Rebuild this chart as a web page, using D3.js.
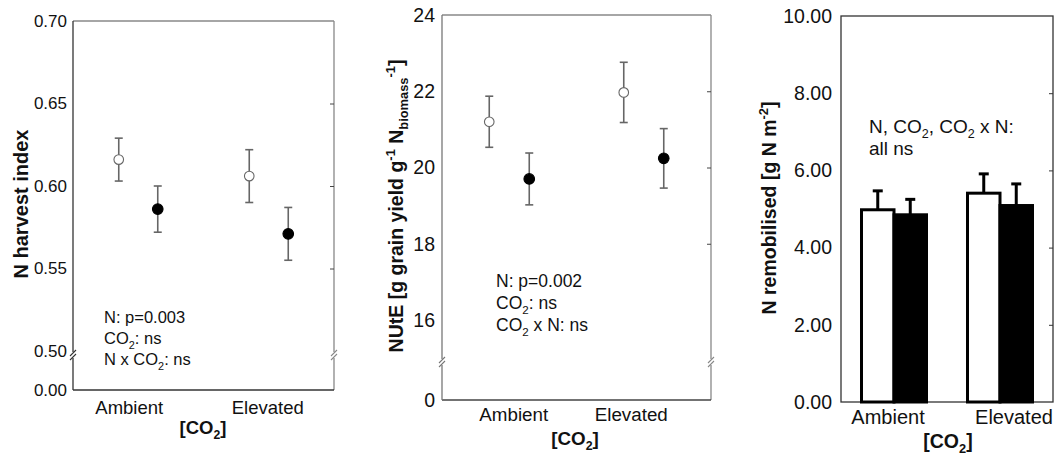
<!DOCTYPE html>
<html>
<head>
<meta charset="utf-8" />
<script src="https://d3js.org/d3.v7.min.js"></script>
<style>
  body { margin: 0; background: #fff; }
  svg text { font-family: Arial, "Liberation Sans", sans-serif; fill: #111; }
</style>
</head>
<body>
<svg id="chart"></svg>
<script>
// CO2 levels and the two N treatments (open / filled symbols)
var co2Levels = ["Ambient", "Elevated"];
var nLevels = ["open", "filled"];

// N harvest index
var nhiOpen = [0.616, 0.606];
var nhiOpenErr = [0.013, 0.016];
var nhiFilled = [0.586, 0.571];
var nhiFilledErr = [0.014, 0.016];
var nhiTicks = [0.50, 0.55, 0.60, 0.65, 0.70];

// NUtE
var nuteOpen = [21.2, 21.97];
var nuteOpenErr = [0.67, 0.79];
var nuteFilled = [19.7, 20.24];
var nuteFilledErr = [0.68, 0.78];
var nuteTicks = [16, 18, 20, 22, 24];

// N remobilised
var remobOpen = [4.98, 5.41];
var remobOpenErr = [0.49, 0.50];
var remobFilled = [4.85, 5.09];
var remobFilledErr = [0.40, 0.56];
var remobTicks = [0, 2, 4, 6, 8, 10];

var svg = d3.select("#chart").attr("width", 1062).attr("height", 457);
svg.append("rect").attr("width", 1062).attr("height", 457).attr("fill", "#fff");

// text with sub / superscript parts
function richText(g, x, y, parts, size, weight) {
  var t = g.append("text").attr("x", x).attr("y", y)
    .style("font-size", size + "px").style("font-weight", weight || "normal");
  var shift = 0;
  parts.forEach(function (p) {
    var target = p.sub ? size * 0.28 : p.sup ? -size * 0.42 : 0;
    t.append("tspan")
      .attr("dy", target - shift)
      .style("font-size", (p.sub || p.sup) ? (size * 0.66) + "px" : null)
      .text(p.t);
    shift = target;
  });
  return t;
}

function styleAxis(a, size, color) {
  a.select(".domain").remove();
  a.selectAll("text").style("font-size", size + "px");
  a.selectAll("line").attr("stroke", color);
}

function lineTo(g, x1, y1, x2, y2, color, w) {
  g.append("line").attr("x1", x1).attr("y1", y1).attr("x2", x2).attr("y2", y2)
    .attr("stroke", color).attr("stroke-width", w || 1.3);
}

function breakMark(g, x, y, color) {
  // white gap + two slanted strokes
  g.append("rect").attr("x", x - 3).attr("y", y - 3).attr("width", 6).attr("height", 6).attr("fill", "#fff");
  lineTo(g, x - 3, y + 1, x + 3, y - 5, color, 1.1);
  lineTo(g, x - 3, y + 5, x + 3, y - 1, color, 1.1);
}

// scatter panel with broken y axis
function scatterPanel(c) {
  var g = svg.append("g");
  var x = d3.scalePoint().domain(co2Levels).range([c.left, c.right]).padding(0.5);
  var off = d3.scalePoint().domain(nLevels).range([-c.spread, c.spread]);
  var y = d3.scaleLinear().domain(c.domain).range([c.yMin, c.top]);
  var y0 = d3.scaleLinear().domain([0, 1]).range([c.zeroY, c.zeroY - 10]);

  // frame
  lineTo(g, c.left, c.top, c.right, c.top, c.topColor);
  lineTo(g, c.right, c.top, c.right, c.zeroY, c.topColor);
  lineTo(g, c.left, c.zeroY, c.right, c.zeroY, c.axisColor);
  lineTo(g, c.left, c.top, c.left, c.zeroY, c.leftColor);
  breakMark(g, c.left, c.breakY, c.leftColor);
  breakMark(g, c.right, c.breakY, c.topColor);

  // tick labels
  g.append("g").attr("transform", "translate(" + c.left + ",0)")
    .call(d3.axisLeft(y).tickValues(c.ticks).tickSize(0).tickPadding(c.pad).tickFormat(c.fmt))
    .call(function (a) { styleAxis(a, c.tickSize, c.leftColor); });
  g.append("g").attr("transform", "translate(" + c.left + ",0)")
    .call(d3.axisLeft(y0).tickValues([0]).tickSize(0).tickPadding(c.pad).tickFormat(c.fmt))
    .call(function (a) { styleAxis(a, c.tickSize, c.leftColor); });
  // inward ticks on the right
  g.append("g").attr("transform", "translate(" + c.right + ",0)")
    .call(d3.axisLeft(y).tickValues(c.ticks.slice(1, -1)).tickSize(4).tickFormat(""))
    .call(function (a) { styleAxis(a, c.tickSize, "#444"); });

  var series = [
    { key: "open", mean: c.open, err: c.openErr, fill: "#fff", stroke: "#666" },
    { key: "filled", mean: c.filled, err: c.filledErr, fill: "#000", stroke: "#000" }
  ];
  series.forEach(function (s) {
    co2Levels.forEach(function (lev, i) {
      var cx = x(lev) + off(s.key);
      var hi = y(s.mean[i] + s.err[i]), lo = y(s.mean[i] - s.err[i]);
      lineTo(g, cx, hi, cx, lo, "#666", 1.6);
      lineTo(g, cx - 4, hi, cx + 4, hi, "#666", 1.6);
      lineTo(g, cx - 4, lo, cx + 4, lo, "#666", 1.6);
      g.append("circle").attr("cx", cx).attr("cy", y(s.mean[i]))
        .attr("r", s.key === "open" ? 4.8 : 5.3)
        .attr("fill", s.fill).attr("stroke", s.stroke).attr("stroke-width", 1.1);
    });
  });

  // x labels
  co2Levels.forEach(function (lev, i) {
    g.append("text").attr("x", x(lev) + c.labelDx[i]).attr("y", c.labelY)
      .attr("text-anchor", "middle").style("font-size", c.labelSize + "px").text(lev);
  });
  richText(g, c.co2X, c.co2Y, [{ t: "[CO" }, { t: "2", sub: true }, { t: "]" }], c.labelSize, "bold")
    .attr("text-anchor", "middle");
  return g;
}

// Panel 1: N harvest index
var p1 = scatterPanel({
  left: 73, right: 334, top: 21, yMin: 351, zeroY: 390, breakY: 355,
  domain: [0.50, 0.70], ticks: nhiTicks, fmt: d3.format(".2f"),
  tickSize: 17, pad: 6, spread: 19.5,
  open: nhiOpen, openErr: nhiOpenErr, filled: nhiFilled, filledErr: nhiFilledErr,
  topColor: "#888", leftColor: "#333", axisColor: "#333",
  labelDx: [-9, -1], labelY: 414, labelSize: 18.5, co2X: 203, co2Y: 434
});
richText(p1, 0, 0, [{ t: "N harvest index" }], 20, "bold")
  .attr("text-anchor", "middle").attr("transform", "translate(28,204) rotate(-90)");
richText(p1, 104, 323, [{ t: "N: p=0.003" }], 16.5);
richText(p1, 104, 344, [{ t: "CO" }, { t: "2", sub: true }, { t: ": ns" }], 16.5);
richText(p1, 104, 365, [{ t: "N x CO" }, { t: "2", sub: true }, { t: ": ns" }], 16.5);

// Panel 2: NUtE
var p2 = scatterPanel({
  left: 442, right: 711, top: 15, yMin: 320, zeroY: 400, breakY: 362,
  domain: [16, 24], ticks: nuteTicks, fmt: d3.format("d"),
  tickSize: 19.5, pad: 7, spread: 20,
  open: nuteOpen, openErr: nuteOpenErr, filled: nuteFilled, filledErr: nuteFilledErr,
  topColor: "#888", leftColor: "#777", axisColor: "#444",
  labelDx: [4.5, -12.5], labelY: 421, labelSize: 18.8, co2X: 575, co2Y: 445
});
richText(p2, 0, 0, [
  { t: "NUtE [g grain yield g" }, { t: "-1", sup: true }, { t: " N" },
  { t: "biomass", sub: true }, { t: "-1", sup: true }, { t: "]" }
], 19.5, "bold")
  .attr("text-anchor", "middle").attr("transform", "translate(403,206) rotate(-90)");
richText(p2, 496, 287, [{ t: "N: p=0.002" }], 17.5);
richText(p2, 496, 309, [{ t: "CO" }, { t: "2", sub: true }, { t: ": ns" }], 17.5);
richText(p2, 496, 331, [{ t: "CO" }, { t: "2", sub: true }, { t: " x N: ns" }], 17.5);

// Panel 3: N remobilised (bars, one-sided error bars)
(function () {
  var g = svg.append("g");
  var left = 841, right = 1053, top = 16, bottom = 402;
  var x = d3.scalePoint().domain(co2Levels).range([left, right]).padding(0.5);
  var sub = d3.scaleBand().domain(nLevels).range([-32.5, 32.5]);
  var y = d3.scaleLinear().domain([0, 10]).range([bottom, top]);

  g.append("rect").attr("x", left).attr("y", top).attr("width", right - left).attr("height", bottom - top)
    .attr("fill", "none").attr("stroke", "#333").attr("stroke-width", 1.3);
  g.append("g").attr("transform", "translate(" + left + ",0)")
    .call(d3.axisLeft(y).tickValues(remobTicks).tickSize(0).tickPadding(9).tickFormat(d3.format(".2f")))
    .call(function (a) { styleAxis(a, 19.5, "#333"); });
  g.append("g").attr("transform", "translate(" + right + ",0)")
    .call(d3.axisLeft(y).tickValues(remobTicks.slice(1, -1)).tickSize(4).tickFormat(""))
    .call(function (a) { styleAxis(a, 19.5, "#333"); });

  var series = [
    { key: "open", mean: remobOpen, err: remobOpenErr, fill: "#fff" },
    { key: "filled", mean: remobFilled, err: remobFilledErr, fill: "#000" }
  ];
  series.forEach(function (s) {
    co2Levels.forEach(function (lev, i) {
      var bx = x(lev) + sub(s.key);
      var cx = bx + sub.bandwidth() / 2;
      var top = y(s.mean[i] + s.err[i]);
      lineTo(g, cx, y(s.mean[i]), cx, top, "#000", 3);
      lineTo(g, cx - 5, top, cx + 5, top, "#000", 3);
    });
  });
  series.forEach(function (s) {
    co2Levels.forEach(function (lev, i) {
      var bx = x(lev) + sub(s.key);
      g.append("rect").attr("x", bx).attr("y", y(s.mean[i]))
        .attr("width", sub.bandwidth()).attr("height", y(0) - y(s.mean[i]))
        .attr("fill", s.fill).attr("stroke", "#000").attr("stroke-width", 3);
    });
  });

  var labelDx = [-6, 14];
  co2Levels.forEach(function (lev, i) {
    g.append("text").attr("x", x(lev) + labelDx[i]).attr("y", 424)
      .attr("text-anchor", "middle").style("font-size", "20px").text(lev);
  });
  richText(g, 948, 448, [{ t: "[CO" }, { t: "2", sub: true }, { t: "]" }], 19.5, "bold")
    .attr("text-anchor", "middle");
  richText(g, 0, 0, [{ t: "N remobilised [g N m" }, { t: "-2", sup: true }, { t: "]" }], 19.5, "bold")
    .attr("text-anchor", "middle").attr("transform", "translate(776,208) rotate(-90)");
  richText(g, 869, 133, [
    { t: "N, CO" }, { t: "2", sub: true }, { t: ", CO" }, { t: "2", sub: true }, { t: " x N:" }
  ], 19);
  richText(g, 869, 155, [{ t: "all ns" }], 19);
})();
</script>
</body>
</html>
